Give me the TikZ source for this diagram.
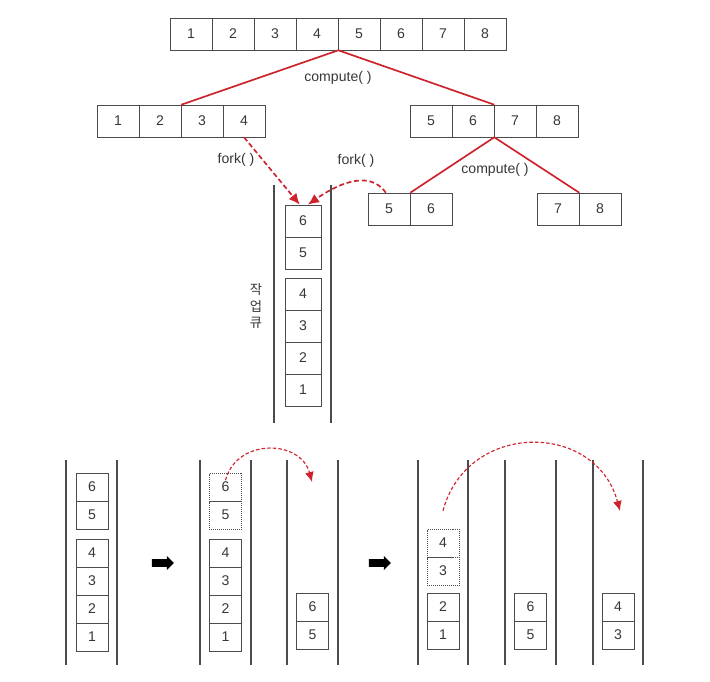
\documentclass[tikz,border=0pt]{standalone}
\usepackage{fontspec}
\setmainfont{Liberation Sans}
\newfontfamily\kofont{Noto Sans CJK KR}
\usetikzlibrary{shapes.arrows,arrows.meta}

\definecolor{forkred}{RGB}{205,35,45}
\definecolor{boxgray}{RGB}{75,75,75}
\definecolor{textgray}{RGB}{55,55,55}

\tikzstyle{cellNode} = [rectangle, minimum width=1.05cm, minimum height=0.8cm, text centered, draw=boxgray, inner sep=0pt]
\tikzstyle{queueNode} = [rectangle, minimum width=0.9cm, minimum height=0.8cm, text centered, draw=boxgray, inner sep=0pt]
\tikzstyle{stackNode} = [rectangle, minimum width=0.8cm, minimum height=0.7cm, text centered, draw=boxgray, inner sep=0pt]
\tikzstyle{dotNode} = [stackNode, densely dotted]
\tikzstyle{splitLine} = [forkred, line width=1.2pt]
\tikzstyle{forkArrow} = [forkred, line width=1.2pt, dash pattern=on 3.5pt off 2pt, -{Latex[length=2.8mm,width=2.5mm]}]
\tikzstyle{stealArrow} = [forkred, thick, dash pattern=on 2.5pt off 1.5pt, -{Latex[length=2.5mm,width=2.2mm]}]
\tikzstyle{queueWall} = [boxgray, line width=1pt]
\tikzstyle{blockArrow} = [single arrow, fill=black, minimum height=0.55cm, inner sep=2.6pt, single arrow head extend=0.08cm]

\begin{document}
\begin{tikzpicture}[x=0.025cm, y=-0.025cm, node distance=1.05cm, font=\fontsize{10}{12}\selectfont, text=textgray]
    \useasboundingbox (0,0) rectangle (710,682);

    % tableau de depart
    \node (t1)[cellNode] at (191,34) {1};
    \foreach \n [remember=\n as \p (initially 1)] in {2,...,8}
        \node (t\n)[cellNode, right of=t\p] {\n};

    % premiere division
    \node (l1)[cellNode] at (118,121) {1};
    \foreach \n [remember=\n as \p (initially 1)] in {2,3,4}
        \node (l\n)[cellNode, right of=l\p] {\n};
    \node (r5)[cellNode] at (431,121) {5};
    \foreach \n [remember=\n as \p (initially 5)] in {6,7,8}
        \node (r\n)[cellNode, right of=r\p] {\n};
    \node (compute1) at (338,78) {compute( )};
    \draw [splitLine] (l2.north east) -- (t4.south east) -- (r6.north east);

    % seconde division
    \node (s5)[cellNode] at (389,209) {5};
    \node (s6)[cellNode, right of=s5] {6};
    \node (s7)[cellNode] at (558,209) {7};
    \node (s8)[cellNode, right of=s7] {8};
    \node (compute2) at (495,170) {compute( )};
    \draw [splitLine] (s5.north east) -- (r6.south east) -- (s7.north east);

    % file de travail
    \draw [queueWall] (274,185) -- (274,423);
    \draw [queueWall] (331,185) -- (331,423);
    \node (q6)[queueNode] at (303,221) {6};
    \node (q5)[queueNode, below of=q6, node distance=0.8cm] {5};
    \node (q4)[queueNode] at (303,294) {4};
    \node (q3)[queueNode, below of=q4, node distance=0.8cm] {3};
    \node (q2)[queueNode, below of=q3, node distance=0.8cm] {2};
    \node (q1)[queueNode, below of=q2, node distance=0.8cm] {1};
    \node (queueLabel)[align=center, font=\kofont\fontsize{9.5}{11.5}\selectfont] at (256,306) {작\\업\\큐};

    \draw [forkArrow] (l4.south) -- ([xshift=-0.08cm]q6.north);
    \node (fork1) at (236,160) {fork( )};
    \draw [forkArrow] ([xshift=-0.08cm]s5.north) to[out=125, in=35] ([xshift=0.12cm]q6.north);
    \node (fork2) at (356,161) {fork( )};

    % vol de taches
    \foreach \x in {66,117,200,251,287,338,418,468,505,556,593,643}
        \draw [queueWall] (\x,460) -- (\x,665);

    \node (a6)[stackNode] at (92,487) {6};
    \node (a5)[stackNode, below of=a6, node distance=0.7cm] {5};
    \node (a4)[stackNode] at (92,553) {4};
    \node (a3)[stackNode, below of=a4, node distance=0.7cm] {3};
    \node (a2)[stackNode, below of=a3, node distance=0.7cm] {2};
    \node (a1)[stackNode, below of=a2, node distance=0.7cm] {1};
    \node (go1)[blockArrow] at (161,563) {};

    \node (b6)[dotNode] at (225.5,487) {6};
    \node (b5)[dotNode, below of=b6, node distance=0.7cm] {5};
    \node (b4)[stackNode] at (225.5,553) {4};
    \node (b3)[stackNode, below of=b4, node distance=0.7cm] {3};
    \node (b2)[stackNode, below of=b3, node distance=0.7cm] {2};
    \node (b1)[stackNode, below of=b2, node distance=0.7cm] {1};
    \node (c6)[stackNode] at (312.5,607) {6};
    \node (c5)[stackNode, below of=c6, node distance=0.7cm] {5};
    \coordinate (steal1) at (312,482);
    \draw [stealArrow] ([yshift=0.17cm]b6.center) to[out=75, in=105, looseness=1.3] (steal1);
    \node (go2)[blockArrow] at (378,563) {};

    \node (d4)[dotNode] at (443,543) {4};
    \node (d3)[dotNode, below of=d4, node distance=0.7cm] {3};
    \node (d2)[stackNode] at (443,607) {2};
    \node (d1)[stackNode, below of=d2, node distance=0.7cm] {1};
    \node (e6)[stackNode] at (530.5,607) {6};
    \node (e5)[stackNode, below of=e6, node distance=0.7cm] {5};
    \node (f4)[stackNode] at (618,607) {4};
    \node (f3)[stackNode, below of=f4, node distance=0.7cm] {3};
    \coordinate (steal2) at (620,511);
    \draw [stealArrow] ([yshift=0.45cm]d4.north) to[out=75, in=105, looseness=1.35] (steal2);

\end{tikzpicture}
\end{document}
